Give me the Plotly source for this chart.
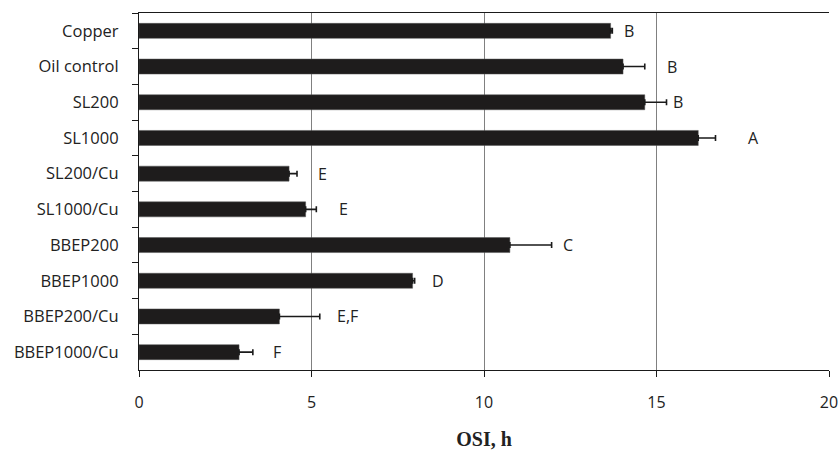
import plotly.graph_objects as go

categories = ["Copper", "Oil control", "SL200", "SL1000", "SL200/Cu", "SL1000/Cu",
              "BBEP200", "BBEP1000", "BBEP200/Cu", "BBEP1000/Cu"]
osi_values = [13.67, 14.03, 14.66, 16.21, 4.35, 4.83, 10.75, 7.93, 4.07, 2.90]
osi_errors = [0.05, 0.63, 0.63, 0.50, 0.23, 0.31, 1.21, 0.06, 1.17, 0.40]
group_letters = ["B", "B", "B", "A", "E", "E", "C", "D", "E,F", "F"]
letter_x = [14.2, 15.45, 15.63, 17.81, 5.31, 5.93, 12.44, 8.68, 6.03, 4.0]
x_ticks = [0, 5, 10, 15, 20]

SANS = "Open Sans, sans-serif"

fig = go.Figure()
fig.add_trace(go.Bar(
    x=osi_values, y=categories, orientation="h",
    marker=dict(color="#1e1c1c", line=dict(color="#555555", width=0.5)),
    error_x=dict(type="data", array=osi_errors, arrayminus=[0] * len(osi_errors),
                 symmetric=False, color="#1a1a1a", thickness=1.6, width=3),
    showlegend=False,
))

for cat, lx, lt in zip(categories, letter_x, group_letters):
    fig.add_annotation(x=lx, y=cat, xref="x", yref="y", text=lt, showarrow=False,
                       font=dict(family=SANS, size=16, color="#222222"))

fig.update_layout(
    width=839, height=450,
    margin=dict(l=138.5, r=10, t=12.7, b=80, autoexpand=False),
    paper_bgcolor="white", plot_bgcolor="white",
    bargap=0.58,
    xaxis=dict(range=[0, 20], tickvals=x_ticks, ticktext=[str(v) for v in x_ticks],
               showgrid=True, gridcolor="#808080", gridwidth=1,
               showline=True, linecolor="#1a1a1a", linewidth=1.2, mirror=True,
               ticks="outside", ticklen=6, tickcolor="#1a1a1a",
               ticklabelstandoff=12,
               tickfont=dict(family=SANS, size=16, color="#222222"),
               title=dict(text="<b>OSI, h</b>", standoff=20,
                          font=dict(family="Liberation Serif, serif", size=20, color="#222222")),
               zeroline=False, fixedrange=True, automargin=False),
    yaxis=dict(categoryorder="array", categoryarray=categories, autorange="reversed",
               showline=True, linecolor="#1a1a1a", linewidth=1.2,
               ticks="outside", ticklen=6, tickcolor="#1a1a1a", tickson="boundaries",
               ticklabelstandoff=16,
               tickfont=dict(family=SANS, size=16.5, color="#222222"),
               showgrid=False, fixedrange=True, automargin=False),
)

fig.write_html("out.html", config={"displayModeBar": False},
               post_script="document.body.style.margin='0';document.body.style.overflow='hidden';")
